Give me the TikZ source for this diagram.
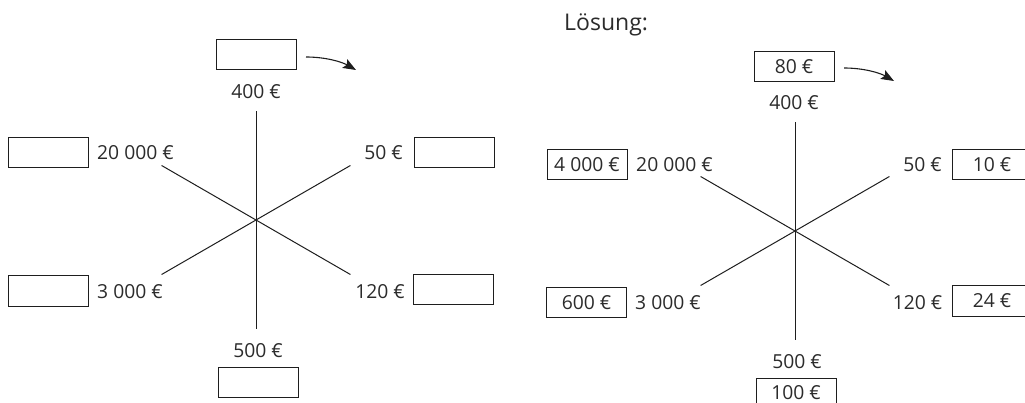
\documentclass[tikz,border=0pt]{standalone}
\usepackage{fontspec}
\setmainfont{Open Sans}
\usetikzlibrary{arrows.meta}
\definecolor{txt}{HTML}{2B2B2B}
\definecolor{ln}{HTML}{1E1E1E}
\begin{document}
\begin{tikzpicture}[x=1pt,y=-1pt,
  lbl/.style={text=txt,font=\fontsize{19.3}{22}\selectfont,inner sep=0pt},
  box/.style={draw=ln,line width=1pt,minimum width=80pt,minimum height=30pt,inner sep=0pt,text=txt,font=\fontsize{19.3}{22}\selectfont},
  spoke/.style={draw=ln,line width=1pt},
  hint/.style={draw=ln,line width=1.1pt,-{Stealth[length=13pt,width=10pt,inset=2.5pt]}}]
\useasboundingbox (0,0) rectangle (1025,403);
\clip (0,0) rectangle (1025,403);
% ---------- left exercise ----------
\coordinate (c1) at (256,220);
\foreach \a in {30,90,150,210,270,330}{
  \path (c1) ++(\a:109) coordinate (c1e\a);
  \draw[spoke] (c1) -- (c1e\a);
}
\node[box] (b400) at (256,55) {};
\node[lbl] (l400) at (256,92) {400 €};
\node[box] (b20000) at (48.5,152.5) {};
\node[lbl] (l20000) at (135.5,153) {20 000 €};
\node[lbl] (l50) at (383.5,153) {50 €};
\node[box] (b50) at (454,152.5) {};
\node[box] (b3000) at (48,291) {};
\node[lbl] (l3000) at (130,292) {3 000 €};
\node[lbl] (l120) at (380,292) {120 €};
\node[box] (b120) at (453,289.5) {};
\node[lbl] (l500) at (258,351) {500 €};
\node[box] (b500) at (258,382) {};
\coordinate (a1s) at (306,57);
\coordinate (a1e) at (356,70);
\draw[hint] (a1s) .. controls (326,57) and (342,62) .. (a1e);
% ---------- solution ----------
\node[lbl,anchor=base west,font=\fontsize{23}{26}\selectfont] (sol) at (564,30.7) {Lösung:};
\coordinate (c2) at (795,231);
\foreach \a in {30,90,150,210,270,330}{
  \path (c2) ++(\a:109) coordinate (c2e\a);
  \draw[spoke] (c2) -- (c2e\a);
}
\node[box] (b80) at (794,67) {80 €};
\node[lbl] (r400) at (794,103) {400 €};
\node[box] (b4000) at (587,164.5) {4 000 €};
\node[lbl] (r20000) at (674.5,165) {20 000 €};
\node[lbl] (r50) at (922.5,165) {50 €};
\node[box] (b10) at (992,164.5) {10 €};
\node[box] (b600) at (586.5,302.5) {600 €};
\node[lbl] (r3000) at (668,303) {3 000 €};
\node[lbl] (r120) at (917.5,303) {120 €};
\node[box] (b24) at (992,301) {24 €};
\node[lbl] (r500) at (797,362) {500 €};
\node[box] (b100) at (796,393) {100 €};
\coordinate (a2s) at (844,68);
\coordinate (a2e) at (894,81);
\draw[hint] (a2s) .. controls (864,68) and (880,73) .. (a2e);
\end{tikzpicture}
\end{document}
